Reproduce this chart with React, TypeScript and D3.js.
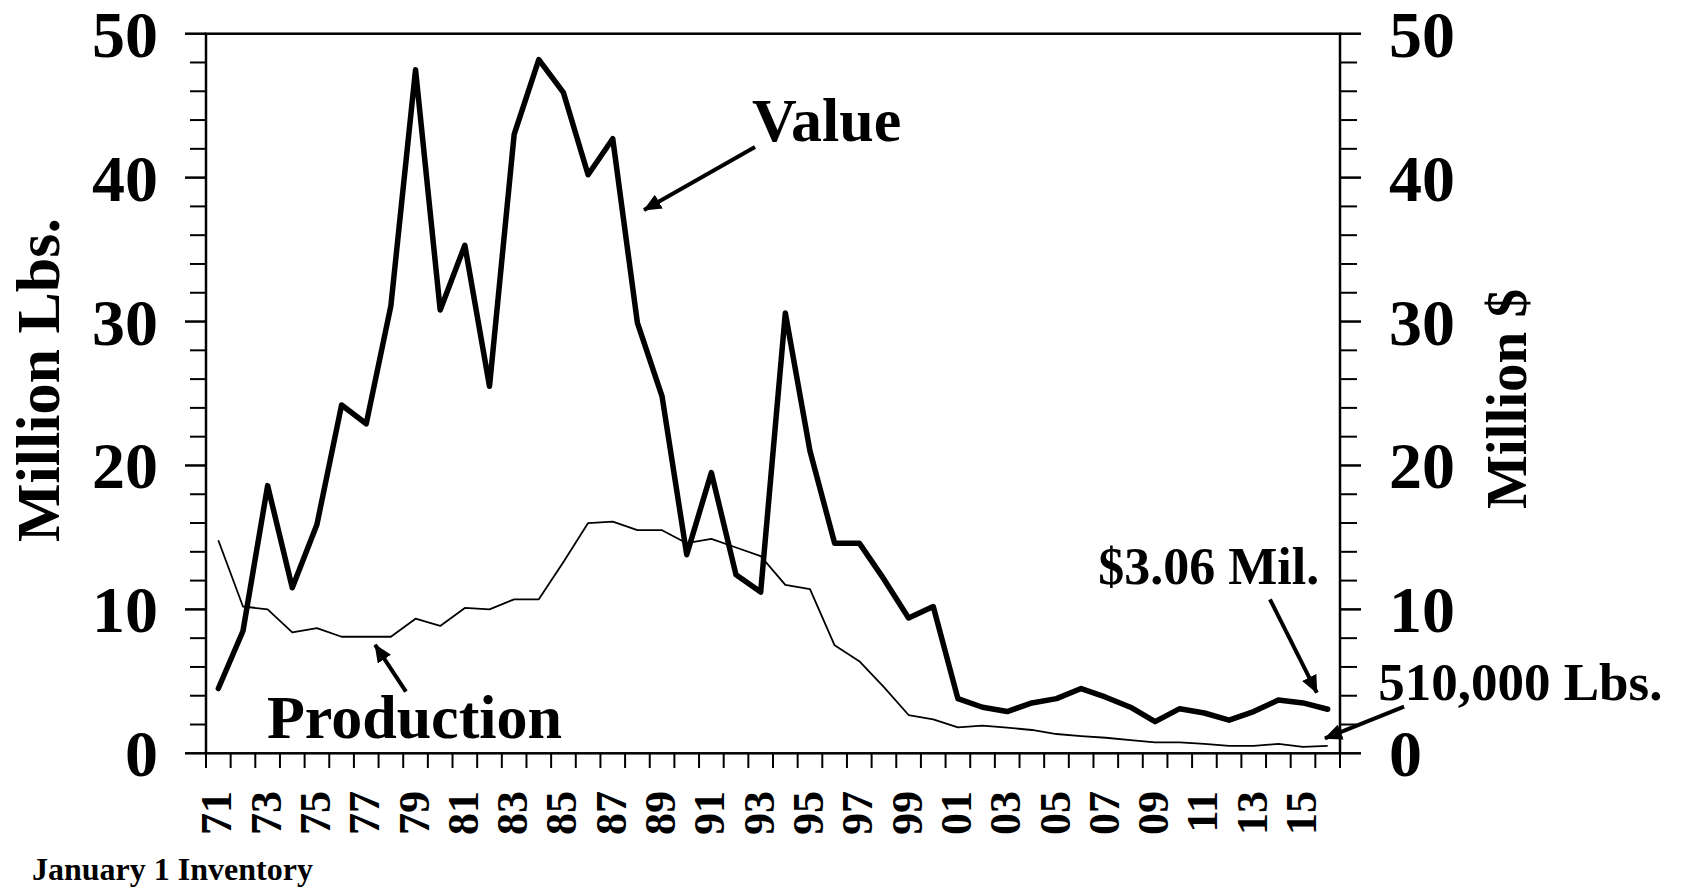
import React from 'react'
import * as d3 from 'd3'

const years = ['71', '72', '73', '74', '75', '76', '77', '78', '79', '80',
  '81', '82', '83', '84', '85', '86', '87', '88', '89', '90',
  '91', '92', '93', '94', '95', '96', '97', '98', '99', '00',
  '01', '02', '03', '04', '05', '06', '07', '08', '09', '10',
  '11', '12', '13', '14', '15', '16']

// million $
const value = [4.5, 8.5, 18.6, 11.5, 15.9, 24.2, 22.9, 31.1, 47.5, 30.8,
  35.3, 25.5, 43.0, 48.2, 45.9, 40.2, 42.7, 29.9, 24.8, 13.8,
  19.5, 12.4, 11.2, 30.6, 21.0, 14.6, 14.6, 12.1, 9.4, 10.2,
  3.8, 3.2, 2.9, 3.5, 3.8, 4.5, 3.9, 3.2, 2.2, 3.1,
  2.8, 2.3, 2.9, 3.7, 3.5, 3.06]

// million lbs
const production = [14.8, 10.2, 10.0, 8.4, 8.7, 8.1, 8.1, 8.1, 9.35, 8.85,
  10.1, 10.0, 10.7, 10.7, 13.3, 16.0, 16.1, 15.5, 15.5, 14.6,
  14.9, 14.3, 13.7, 11.7, 11.4, 7.5, 6.4, 4.6, 2.66, 2.36,
  1.8, 1.92, 1.78, 1.62, 1.34, 1.2, 1.08, 0.92, 0.76, 0.76,
  0.65, 0.51, 0.51, 0.65, 0.45, 0.51]

const yTicks = [0, 10, 20, 30, 40, 50]
const yMinor = [2, 4, 6, 8, 12, 14, 16, 18, 22, 24, 26, 28, 32, 34, 36, 38, 42, 44, 46, 48]

// annotations in data space: i = position in year-steps from left edge, v = axis value
const notes = [
  { text: 'Value', i: 22.15, v: 42.55, size: 62 },
  { text: 'Production', i: 2.47, v: 1.06, size: 62 },
  { text: '$3.06 Mil.', i: 36.19, v: 11.77, size: 52 },
  { text: '510,000 Lbs.', i: 47.55, v: 3.71, size: 53 },
]
const arrows = [
  { i1: 22.27, v1: 42.13, i2: 17.77, v2: 37.75 },
  { i1: 8.11, v1: 4.28, i2: 6.86, v2: 7.53 },
  { i1: 43.16, v1: 10.7, i2: 45.06, v2: 4.21 },
  { i1: 48.6, v1: 3.24, i2: 45.39, v2: 1.04 },
]

const font = '"Liberation Serif", "Times New Roman", serif'

export default function App() {
  const width = 1683
  const height = 890
  const x = d3.scaleBand().domain(years).range([206, 1340]).padding(0)
  const y = d3.scaleLinear().domain([0, 50]).range([753.3, 33.7])
  const cx = (d: string) => (x(d) as number) + x.bandwidth() / 2
  const px = (i: number) => 206 + i * x.step()

  const line = d3.line<number>()
    .x((d, i) => cx(years[i]))
    .y(d => y(d))

  const bounds = d3.range(years.length + 1).map(px)

  return (
    <svg width={width} height={height}
      style={{ position: 'absolute', left: 0, top: 0, background: '#fff' }}
      fontFamily={font} fontWeight="bold">
      <defs>
        <marker id="ah" markerUnits="userSpaceOnUse" markerWidth="20" markerHeight="16"
          refX="17" refY="8" orient="auto">
          <path d="M0,0 L18,8 L0,16 Z" fill="#000" />
        </marker>
      </defs>

      {/* frame */}
      <rect x={206} y={y(50)} width={1340 - 206} height={y(0) - y(50)}
        fill="none" stroke="#000" strokeWidth={2.5} />

      {/* y ticks */}
      {yTicks.map(t => (
        <g key={'t' + t}>
          <line x1={185} x2={206} y1={y(t)} y2={y(t)} stroke="#000" strokeWidth={2.5} />
          <line x1={1340} x2={1361} y1={y(t)} y2={y(t)} stroke="#000" strokeWidth={2.5} />
          <text x={158} y={y(t) + 23} textAnchor="end" fontSize={66}>{t}</text>
          <text x={1389} y={y(t) + 23} textAnchor="start" fontSize={66}>{t}</text>
        </g>
      ))}
      {yMinor.map(t => (
        <g key={'m' + t}>
          <line x1={190} x2={206} y1={y(t)} y2={y(t)} stroke="#000" strokeWidth={2} />
          <line x1={1340} x2={1357} y1={y(t)} y2={y(t)} stroke="#000" strokeWidth={2} />
        </g>
      ))}

      {/* x ticks */}
      {bounds.map((b, i) => (
        <line key={'x' + i} x1={b} x2={b} y1={y(0)} y2={768} stroke="#000" strokeWidth={2} />
      ))}
      {years.map((d, i) => i % 2 === 0 ? (
        <text key={'l' + d} transform={`translate(${cx(d) + 13},791) rotate(-90)`}
          textAnchor="end" fontSize={44}>{d}</text>
      ) : null)}

      {/* series */}
      <path d={line(production) as string} fill="none" stroke="#000" strokeWidth={1.8}
        strokeLinejoin="round" />
      <path d={line(value) as string} fill="none" stroke="#000" strokeWidth={5.5}
        strokeLinejoin="round" strokeLinecap="round" />

      {/* axis titles */}
      <text transform="translate(59,380) rotate(-90)" textAnchor="middle" fontSize={62}>Million Lbs.</text>
      <text transform="translate(1526,399) rotate(-90)" textAnchor="middle" fontSize={57}>Million $</text>

      {/* annotations */}
      {notes.map(n => (
        <text key={n.text} x={px(n.i)} y={y(n.v)} fontSize={n.size}>{n.text}</text>
      ))}
      {arrows.map((a, k) => (
        <line key={'a' + k} x1={px(a.i1)} y1={y(a.v1)} x2={px(a.i2)} y2={y(a.v2)}
          stroke="#000" strokeWidth={4} markerEnd="url(#ah)" />
      ))}

      <text x={32} y={880} fontSize={32}>January 1 Inventory</text>
    </svg>
  )
}
